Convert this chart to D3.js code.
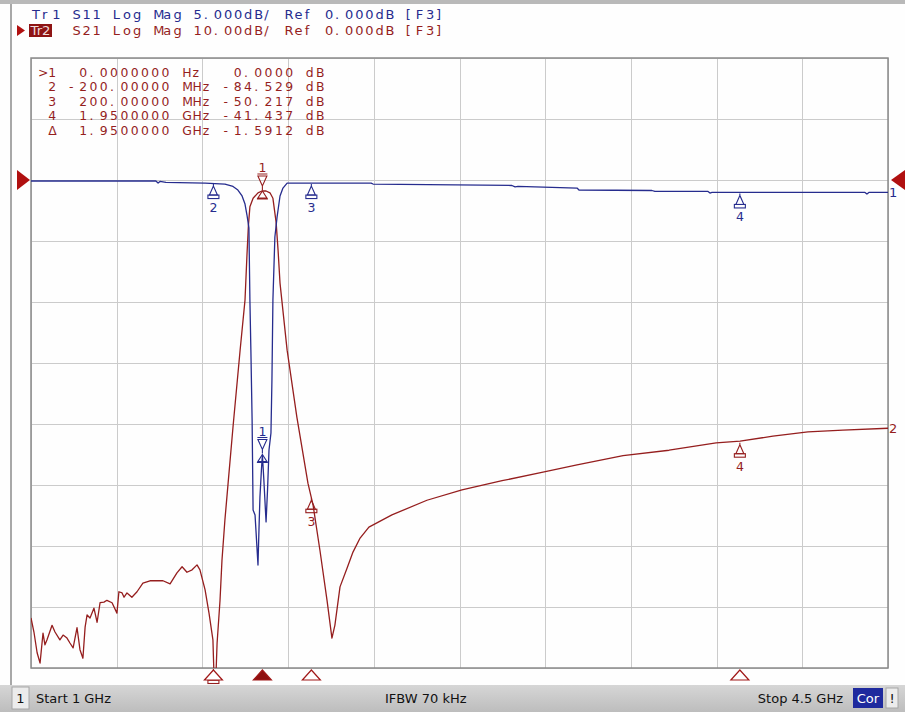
<!DOCTYPE html>
<html><head><meta charset="utf-8">
<script src="https://cdn.jsdelivr.net/npm/d3@7/dist/d3.min.js"></script>
<style>
html,body{margin:0;padding:0;background:#fff;overflow:hidden;}
svg{display:block;}
</style></head><body>
<svg id="c" width="905" height="712"></svg>
<script>
// ---------- data ----------
const freqStart = 1.0, freqStop = 4.5;            // GHz
const s11Freq = [1.000,1.282,1.510,1.519,1.527,1.551,1.711,1.792,1.825,1.845,1.862,1.874,1.882,1.890,1.894,1.898,1.903,1.907,1.915,1.921,1.927,1.931,1.935,1.941,1.945,1.951,1.960,1.966,1.972,1.980,1.984,1.988,1.996,2.005,2.017,2.029,2.046,2.389,2.397,2.964,2.977,2.989,3.230,3.238,3.536,3.548,3.765,3.773,3.781,4.406,4.414,4.422,4.500];
const s11Db = [-0.08,-0.08,-0.08,-0.25,-0.12,-0.20,-0.25,-0.33,-0.53,-0.82,-1.31,-1.97,-2.87,-3.93,-9.84,-13.93,-19.67,-27.05,-27.46,-29.5,-31.56,-28.69,-25.98,-23.77,-22.54,-24.59,-28.03,-25.41,-22.13,-20.74,-16.39,-9.84,-4.67,-3.03,-1.31,-0.66,-0.25,-0.25,-0.33,-0.45,-0.57,-0.53,-0.66,-0.82,-0.86,-0.94,-0.94,-1.07,-1.02,-1.02,-1.15,-1.02,-1.02];
const s21Freq = [1.000,1.012,1.025,1.037,1.049,1.057,1.065,1.086,1.098,1.118,1.131,1.147,1.159,1.172,1.188,1.200,1.212,1.221,1.229,1.241,1.257,1.270,1.282,1.298,1.310,1.331,1.351,1.359,1.372,1.380,1.392,1.412,1.433,1.457,1.486,1.539,1.568,1.596,1.617,1.637,1.658,1.678,1.690,1.711,1.727,1.743,1.751,1.760,1.772,1.780,1.792,1.805,1.825,1.854,1.874,1.882,1.888,1.894,1.907,1.927,1.943,1.960,1.976,1.988,2.001,2.009,2.017,2.046,2.086,2.131,2.152,2.180,2.209,2.229,2.241,2.262,2.291,2.315,2.344,2.380,2.474,2.617,2.760,2.924,3.091,3.230,3.418,3.606,3.798,3.896,4.030,4.173,4.316,4.500];
const s21Db = [-71.8,-74.1,-77.5,-79.2,-74.3,-76.2,-75.4,-73.0,-74.1,-75.4,-74.6,-75.1,-75.9,-76.7,-73.4,-77.0,-78.4,-73.3,-71.3,-71.8,-70.2,-72.5,-69.3,-69.2,-68.9,-69.3,-71.0,-67.5,-67.7,-68.4,-67.7,-68.4,-67.5,-66.1,-65.7,-65.7,-66.2,-64.4,-63.4,-64.3,-63.9,-63.1,-63.9,-67.2,-71.0,-75.4,-86.1,-75.9,-68.9,-62.3,-55.7,-49.7,-40.5,-27.9,-19.7,-12.3,-7.4,-4.4,-3.0,-2.1,-1.8,-1.8,-2.1,-3.0,-6.9,-11.5,-16.9,-27.9,-38.9,-49.7,-53.3,-60.7,-68.9,-75.1,-73.0,-66.7,-63.6,-61.0,-58.7,-56.9,-54.9,-52.5,-50.8,-49.3,-47.9,-46.7,-45.2,-44.3,-43.1,-42.8,-42.0,-41.3,-41.0,-40.7];

const markerIds = ["1","2","3","4"];
const markerFreq = [1.945, 1.745, 2.145, 3.895];
const s11MarkerDb = [-22.5, -0.25, -0.25, -1.02];
const s21MarkerDb = [-1.8, -86.3, -52.0, -42.9];

const headerTr1 = "Tr1 S11 Log Mag 5.000dB/ Ref 0.000dB [F3]";
const headerTr2 = "Tr2 S21 Log Mag 10.00dB/ Ref 0.000dB [F3]";
const tableRows = [
  ">1  0.0000000 Hz   0.0000 dB",
  " 2 -200.00000 MHz -84.529 dB",
  " 3  200.00000 MHz -50.217 dB",
  " 4  1.9500000 GHz -41.437 dB",
  " \u0394  1.9500000 GHz -1.5912 dB"
];
const statusStart = "Start 1 GHz", statusIfbw = "IFBW 70 kHz", statusStop = "Stop 4.5 GHz";
const channelLabel = "1", corLabel = "Cor", warnLabel = "!";

// ---------- layout ----------
const W = 905, H = 712;
const L = 31, R = 888, T = 58, B = 668;
const BLUE = "#262c8e", RED = "#951e1e", GRID = "#cbcbcb";
const FONT = "'DejaVu Sans', Verdana, sans-serif";

const svg = d3.select("#c");
svg.append("rect").attr("width", W).attr("height", H).attr("fill", "#fefefe");

const x = d3.scaleLinear().domain([freqStart, freqStop]).range([L, R]);
const y11 = d3.scaleLinear().domain([-40, 10]).range([B, T]);
const y21 = d3.scaleLinear().domain([-80, 20]).range([B, T]);

// outer frame
svg.append("rect").attr("x", 0).attr("y", 0).attr("width", W).attr("height", 4).attr("fill", "#b9b9b9");
svg.append("rect").attr("x", 10).attr("y", 4).attr("width", 2).attr("height", 682).attr("fill", "#a8a8a8");

// grid via axes
const xticks = d3.range(11).map(i => freqStart + i * (freqStop - freqStart) / 10);
const yticks = d3.range(-80, 21, 10);
const gx = svg.append("g").attr("transform", `translate(0,${B})`)
  .call(d3.axisBottom(x).tickValues(xticks).tickSize(-(B - T)).tickFormat(""));
const gy = svg.append("g").attr("transform", `translate(${L},0)`)
  .call(d3.axisLeft(y21).tickValues(yticks).tickSize(-(R - L)).tickFormat(""));
[gx, gy].forEach(g => {
  g.select(".domain").remove();
  g.selectAll(".tick line").attr("stroke", GRID).attr("stroke-width", 1).attr("shape-rendering", "crispEdges");
});
svg.append("rect").attr("x", L).attr("y", T).attr("width", R - L).attr("height", B - T)
  .attr("fill", "none").attr("stroke", "#8a8a8a").attr("stroke-width", 1.5);

// fixed-pitch text helper: one tspan per character on a character grid
function gridText(g, str, x0, pitch, yb, color, size) {
  const chars = Array.from(str);
  const t = g.append("text").attr("y", yb).attr("fill", color)
    .attr("font-family", FONT).attr("font-size", size).style("white-space", "pre");
  chars.forEach((ch, i) => {
    if (ch !== " ") t.append("tspan").attr("x", x0 + i * pitch).text(ch);
  });
  return t;
}

// header
const hdr = svg.append("g");
gridText(hdr, headerTr1, 32, 10.1, 19, BLUE, 13);
hdr.append("path").attr("d", "M17,25 L25,30.5 L17,36 Z").attr("fill", "#b01010");
hdr.append("rect").attr("x", 29).attr("y", 24).attr("width", 23).attr("height", 13).attr("fill", "#8e1414");
hdr.append("text").attr("x", 30.5).attr("y", 35).attr("textLength", 20).attr("lengthAdjust", "spacingAndGlyphs")
  .attr("font-family", FONT).attr("font-size", 13).attr("fill", "#f0dcdc").text(headerTr2.slice(0, 3));
gridText(hdr, headerTr2.slice(3), 32 + 3 * 10.1, 10.1, 35, RED, 13);

// marker table
const tbl = svg.append("g");
tableRows.forEach((row, i) => gridText(tbl, row, 38, 10.3, 76.5 + i * 14.5, RED, 12.4));

// traces
svg.append("clipPath").attr("id", "clip").append("rect")
  .attr("x", L).attr("y", T).attr("width", R - L).attr("height", B - T);
const s11 = s11Freq.map((f, i) => [f, s11Db[i]]);
const s21 = s21Freq.map((f, i) => [f, s21Db[i]]);
const traces = svg.append("g").attr("clip-path", "url(#clip)");
traces.append("path").datum(s21).attr("fill", "none").attr("stroke", RED).attr("stroke-width", 1.3)
  .attr("stroke-linejoin", "round")
  .attr("d", d3.line().x(d => x(d[0])).y(d => y21(d[1])));
traces.append("path").datum(s11).attr("fill", "none").attr("stroke", BLUE).attr("stroke-width", 1.3)
  .attr("stroke-linejoin", "round")
  .attr("d", d3.line().x(d => x(d[0])).y(d => y11(d[1])));

// trace end labels & reference arrows
svg.append("text").attr("x", 889).attr("y", y11(s11Db[s11Db.length - 1]) + 5).attr("fill", BLUE)
  .attr("font-family", FONT).attr("font-size", 13).text("1");
svg.append("text").attr("x", 889).attr("y", y21(s21Db[s21Db.length - 1]) + 5).attr("fill", RED)
  .attr("font-family", FONT).attr("font-size", 13).text("2");
const yr = y21(0);
svg.append("path").attr("d", `M17,${yr - 10} L30,${yr} L17,${yr + 10} Z`).attr("fill", "#b01010");
svg.append("path").attr("d", `M905,${yr - 10} L891,${yr} L905,${yr + 10} Z`).attr("fill", "#b01010");

// trace markers
function traceMarker(g, px, py, id, color, isRef) {
  const m = g.append("g").attr("fill", "none").attr("stroke", color).attr("stroke-width", 1.1);
  if (isRef) {
    m.append("path").attr("d", `M${px - 5},${py - 17} L${px + 5},${py - 17} M${px - 4.5},${py - 15} L${px + 4.5},${py - 15} L${px},${py - 5} Z M${px},${py - 5} L${px},${py - 1}`);
    m.append("path").attr("d", `M${px},${py} L${px - 4.5},${py + 7} L${px + 4.5},${py + 7} Z M${px - 5.5},${py + 8} L${px + 5.5},${py + 8}`);
    g.append("text").attr("x", px).attr("y", py - 19).attr("text-anchor", "middle").attr("fill", color)
      .attr("font-family", FONT).attr("font-size", 12.5).text(id);
  } else {
    m.append("path").attr("d", `M${px},${py + 1} L${px},${py + 4} M${px},${py + 3} L${px - 4},${py + 12} L${px + 4},${py + 12} Z`);
    m.append("rect").attr("x", px - 5.5).attr("y", py + 12).attr("width", 11).attr("height", 3.5);
    g.append("text").attr("x", px).attr("y", py + 29).attr("text-anchor", "middle").attr("fill", color)
      .attr("font-family", FONT).attr("font-size", 12.5).text(id);
  }
}
const mk = svg.append("g");
const clampY = v => Math.max(T, Math.min(B, v));
markerIds.forEach((id, i) => {
  traceMarker(mk, x(markerFreq[i]), clampY(y11(s11MarkerDb[i])), id, BLUE, i === 0);
  traceMarker(mk, x(markerFreq[i]), clampY(y21(s21MarkerDb[i])), id, RED, i === 0);
});

// bottom marker position indicators
const bm = svg.append("g");
markerIds.forEach((id, i) => {
  const px = x(markerFreq[i]);
  bm.append("path").attr("d", `M${px},${B + 2} L${px - 9},${B + 12} L${px + 9},${B + 12} Z`)
    .attr("fill", i === 0 ? "#8e1010" : "#fff").attr("stroke", "#a01818").attr("stroke-width", 1.2);
});

// status bar
const sb = svg.append("g");
const grad = svg.append("defs").append("linearGradient").attr("id", "sbg").attr("x1", 0).attr("y1", 0).attr("x2", 0).attr("y2", 1);
grad.append("stop").attr("offset", "0%").attr("stop-color", "#d6d6d6");
grad.append("stop").attr("offset", "100%").attr("stop-color", "#bdbdbd");
sb.append("rect").attr("x", 0).attr("y", 685).attr("width", W).attr("height", 27).attr("fill", "url(#sbg)");
sb.append("rect").attr("x", 12).attr("y", 687).attr("width", 17).attr("height", 22).attr("fill", "#ececec").attr("stroke", "#a6a6a6");
sb.append("text").attr("x", 20.5).attr("y", 703).attr("text-anchor", "middle").attr("font-family", FONT).attr("font-size", 13).attr("fill", "#111").text(channelLabel);
sb.append("text").attr("x", 36).attr("y", 703).attr("font-family", FONT).attr("font-size", 13).attr("fill", "#111").text(statusStart);
sb.append("text").attr("x", 385).attr("y", 703).attr("font-family", FONT).attr("font-size", 13).attr("fill", "#111").text(statusIfbw);
sb.append("text").attr("x", 843).attr("y", 703).attr("text-anchor", "end").attr("font-family", FONT).attr("font-size", 13).attr("fill", "#111").text(statusStop);
sb.append("rect").attr("x", 853).attr("y", 688).attr("width", 30).attr("height", 20).attr("fill", "#1f2a9e");
sb.append("text").attr("x", 868).attr("y", 703).attr("text-anchor", "middle").attr("font-family", FONT).attr("font-size", 13).attr("fill", "#fff").text(corLabel);
sb.append("rect").attr("x", 886).attr("y", 688).attr("width", 12).attr("height", 20).attr("fill", "#ececec").attr("stroke", "#a6a6a6");
sb.append("text").attr("x", 892).attr("y", 703).attr("text-anchor", "middle").attr("font-family", FONT).attr("font-size", 13).attr("fill", "#111").text(warnLabel);
</script>
</body></html>
